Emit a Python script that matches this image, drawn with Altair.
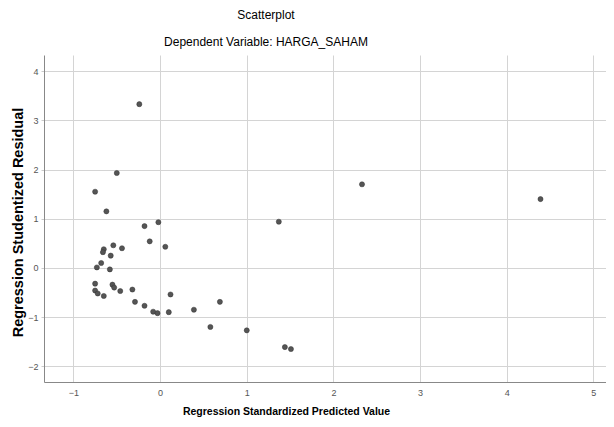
import altair as alt
import pandas as pd

pred = [-0.24, -0.50, -0.75, -0.62, -0.18, -0.02, -0.12, 0.06, -0.54, -0.44,
        -0.65, -0.66, -0.57, -0.68, -0.73, -0.58, -0.75, -0.55, -0.53, -0.75,
        -0.72, -0.65, -0.46, -0.32, 0.12, -0.29, -0.18, -0.08, -0.03, 0.10,
        0.39, 0.69, 0.58, 1.00, 2.33, 4.39, 1.37, 1.44, 1.51]
resid = [3.33, 1.93, 1.55, 1.15, 0.85, 0.93, 0.54, 0.43, 0.46, 0.40,
         0.38, 0.32, 0.25, 0.10, 0.01, -0.03, -0.32, -0.34, -0.40, -0.46,
         -0.52, -0.57, -0.47, -0.44, -0.54, -0.69, -0.77, -0.89, -0.92, -0.90,
         -0.85, -0.69, -1.20, -1.27, 1.70, 1.40, 0.94, -1.61, -1.65]

x_ticks = [-1, 0, 1, 2, 3, 4, 5]
y_ticks = [-2, -1, 0, 1, 2, 3, 4]

df = pd.DataFrame({"pred": pred, "resid": resid})

FONT = "Liberation Sans"

chart = alt.Chart(df).mark_circle(
    size=26, color="#555555", opacity=1, stroke="#333333", strokeWidth=0.5
).encode(
    x=alt.X("pred:Q",
            scale=alt.Scale(domain=[-1.34, 5.146], nice=False, zero=False),
            axis=alt.Axis(values=x_ticks, title="Regression Standardized Predicted Value",
                          titleX=242, titlePadding=9, titleFontSize=10.5,
                          titleFontWeight="bold", titleFont=FONT, titleColor="#000000",
                          labelFont=FONT, labelFontSize=9, labelColor="#555555",
                          labelPadding=6, tickSize=0, domainColor="#888888",
                          gridColor="#d4d4d4", format="d")),
    y=alt.Y("resid:Q",
            scale=alt.Scale(domain=[-2.32, 4.33], nice=False, zero=False),
            axis=alt.Axis(values=y_ticks, title="Regression Studentized Residual",
                          titleX=-19, titleY=167, titleFontSize=14.5,
                          titleFontWeight="bold", titleFont=FONT, titleColor="#000000",
                          labelFont=FONT, labelFontSize=9, labelColor="#555555",
                          labelPadding=3, tickSize=3, tickColor="#cccccc",
                          domainColor="#888888", gridColor="#d4d4d4", format="d")),
).properties(
    width=562,
    height=327,
    padding={"left": 36, "top": 47, "right": 0, "bottom": 37},
    autosize=alt.AutoSizeParams(type="none"),
    title=alt.TitleParams(
        text="Scatterplot",
        subtitle="Dependent Variable: HARGA_SAHAM",
        anchor="middle", dx=-59, offset=6,
        font=FONT, fontSize=12, fontWeight="normal", color="#000000",
        subtitleFont=FONT, subtitleFontSize=12, subtitleColor="#000000",
        subtitleFontWeight="normal", subtitlePadding=15,
    ),
).configure_view(stroke=None)

chart.save("out.html", embed_options={"renderer": "svg", "actions": False})
